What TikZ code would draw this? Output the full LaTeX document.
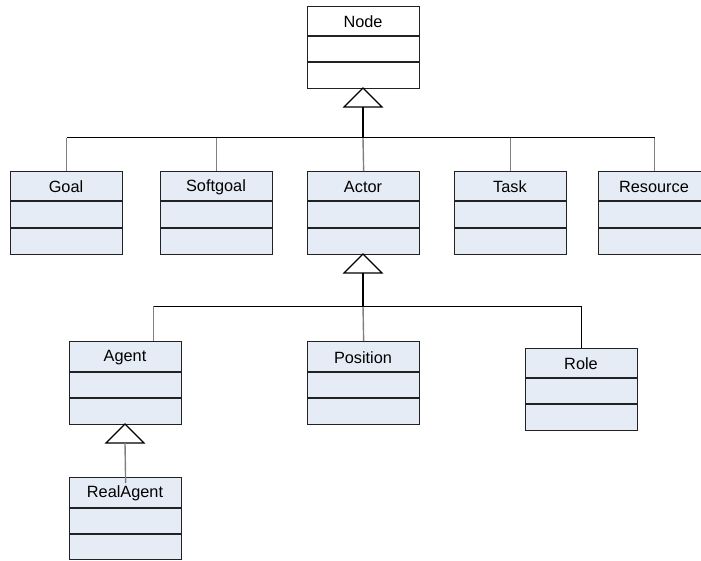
\documentclass[tikz,border=0pt]{standalone}
\usepackage{fontspec}
\setmainfont{Liberation Sans}
\usetikzlibrary{calc}
\definecolor{clsfill}{HTML}{E6ECF6}
\definecolor{boxdraw}{HTML}{222222}
\definecolor{vgray}{HTML}{808080}
\tikzset{
  clsbox/.style={draw=boxdraw, line width=1.3pt, fill=clsfill, rectangle, inner sep=0pt, minimum width=112pt},
  plainbox/.style={clsbox, fill=white},
  clstext/.style={inner sep=0pt, font=\fontsize{16.3}{19}\selectfont, text=black},
  rowline/.style={draw=boxdraw, line width=1.3pt},
  hline/.style={draw=black, line width=1pt},
  vline/.style={draw=vgray, line width=1.4pt},
  stemline/.style={draw=black, line width=1.8pt},
  tri/.style={draw=black, line width=1.2pt, fill=white, line join=miter}
}
% #1 name, #2 left, #3 top, #4 row1, #5 row2, #6 bottom, #7 text, #8 box style
\newcommand{\umlcls}[8]{%
  \node[#8, minimum height={(#6)-(#3)}, anchor=north west] (#1) at (#2,#3) {};
  \draw[rowline] (#2,#4) -- ++(112,0);
  \draw[rowline] (#2,#5) -- ++(112,0);
  \node[clstext] (#1-t) at ({#2+56},{(#3+#4)/2+1}) {#7};
}
\newcommand{\inhtri}[3]{% name, cx, apex y
  \draw[tri] (#2,#3) -- ({#2+19},{#3+19}) -- ({#2-19},{#3+19}) -- cycle;
  \coordinate (#1) at (#2,{#3+19});
}
\begin{document}
\begin{tikzpicture}[x=1pt,y=-1pt]
\useasboundingbox (0,0) rectangle (701,561);
\umlcls{node}{307}{6}{36}{62}{88}{Node}{plainbox}
\umlcls{goal}{10}{171}{201}{228}{254}{Goal}{clsbox}
\umlcls{soft}{160}{171}{201}{228}{254}{Softgoal}{clsbox}
\umlcls{actor}{307}{171}{201}{228}{254}{Actor}{clsbox}
\umlcls{task}{454}{171}{201}{228}{254}{Task}{clsbox}
\umlcls{res}{598}{171}{201}{228}{254}{Resource}{clsbox}
\umlcls{agent}{69}{341}{372}{398}{424}{Agent}{clsbox}
\umlcls{pos}{307}{341}{372}{398}{424}{Position}{clsbox}
\umlcls{role}{525}{348}{378}{404}{430}{Role}{clsbox}
\umlcls{real}{69}{477}{508}{534}{559}{RealAgent}{clsbox}

\coordinate (j1) at (363,138);
\coordinate (j2) at (363,306);
\coordinate (agc) at ([xshift=28pt]agent.north);

% first level
\draw[vline] (goal.north) -- (goal.north |- j1);
\draw[vline] (soft.north) -- (soft.north |- j1);
\draw[vline] (actor.north) -- (j1);
\draw[vline] (task.north) -- (task.north |- j1);
\draw[vline] (res.north) -- (res.north |- j1);
\draw[hline] (goal.north |- j1) -- (res.north |- j1);
\inhtri{t1}{363}{88}
\draw[stemline] (t1) -- (j1);

% second level
\draw[vline] (agc) -- (agc |- j2);
\draw[vline] (pos.north) -- (j2);
\draw[hline] (role.north) -- (role.north |- j2);
\draw[hline] (agc |- j2) -- (role.north |- j2);
\inhtri{t2}{363}{254}
\draw[stemline] (t2) -- (j2);

% third level
\inhtri{t3}{125}{424}
\draw[vline] (t3) -- ($(real.north)+(0,6)$);
\end{tikzpicture}
\end{document}
